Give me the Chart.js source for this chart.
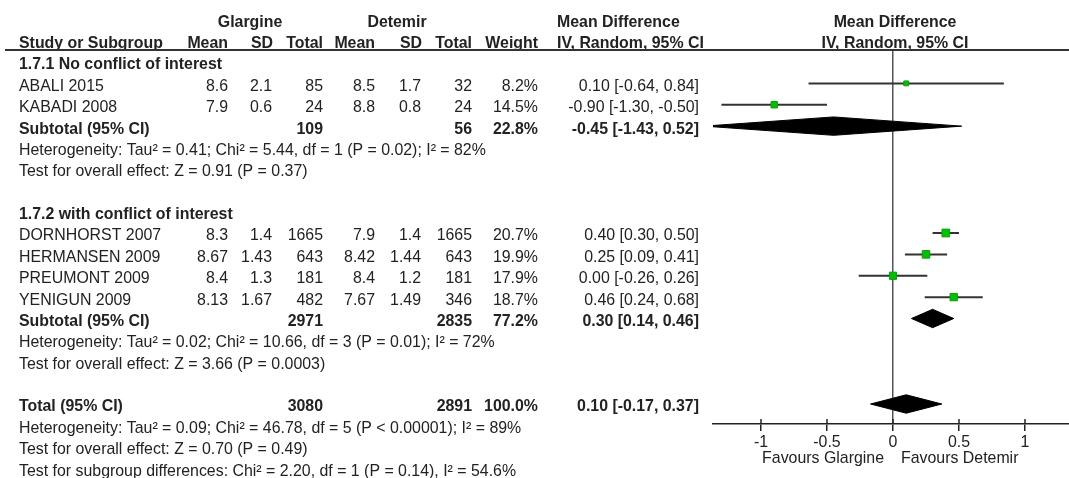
<!DOCTYPE html>
<html>
<head>
<meta charset="utf-8">
<script src="https://cdn.jsdelivr.net/npm/chart.js@4"></script>
<style>
	html, body { margin: 0; padding: 0; background: #fff; overflow: hidden; }
	#wrap { width: 1069px; height: 478px; position: relative; }
</style>
</head>
<body>
<div id="wrap"><canvas id="forest"></canvas></div>
<script>
// ---- data ----
const studies = ["ABALI 2015", "KABADI 2008", "DORNHORST 2007", "HERMANSEN 2009", "PREUMONT 2009", "YENIGUN 2009"];
const studyGroup = [0, 0, 1, 1, 1, 1];
const glargineMean = ["8.6", "7.9", "8.3", "8.67", "8.4", "8.13"];
const glargineSD = ["2.1", "0.6", "1.4", "1.43", "1.3", "1.67"];
const glargineTotal = [85, 24, 1665, 643, 181, 482];
const detemirMean = ["8.5", "8.8", "7.9", "8.42", "8.4", "7.67"];
const detemirSD = ["1.7", "0.8", "1.4", "1.44", "1.2", "1.49"];
const detemirTotal = [32, 24, 1665, 643, 181, 346];
const weights = [8.2, 14.5, 20.7, 19.9, 17.9, 18.7];
const meanDiff = [0.10, -0.90, 0.40, 0.25, 0.00, 0.46];
const ciLow = [-0.64, -1.30, 0.30, 0.09, -0.26, 0.24];
const ciHigh = [0.84, -0.50, 0.50, 0.41, 0.26, 0.68];

const groupNames = ["1.7.1 No conflict of interest", "1.7.2 with conflict of interest"];
const groupGlargineTotal = [109, 2971];
const groupDetemirTotal = [56, 2835];
const groupWeight = [22.8, 77.2];
const groupDiff = [-0.45, 0.30];
const groupLow = [-1.43, 0.14];
const groupHigh = [0.52, 0.46];
const groupHeterogeneity = [
	"Heterogeneity: Tau² = 0.41; Chi² = 5.44, df = 1 (P = 0.02); I² = 82%",
	"Heterogeneity: Tau² = 0.02; Chi² = 10.66, df = 3 (P = 0.01); I² = 72%",
];
const groupOverall = [
	"Test for overall effect: Z = 0.91 (P = 0.37)",
	"Test for overall effect: Z = 3.66 (P = 0.0003)",
];

const totalGlargine = 3080;
const totalDetemir = 2891;
const totalWeight = 100.0;
const totalDiff = 0.10;
const totalLow = -0.17;
const totalHigh = 0.37;
const totalNotes = [
	"Heterogeneity: Tau² = 0.09; Chi² = 46.78, df = 5 (P < 0.00001); I² = 89%",
	"Test for overall effect: Z = 0.70 (P = 0.49)",
	"Test for subgroup differences: Chi² = 2.20, df = 1 (P = 0.14), I² = 54.6%",
];

const xTicks = [-1, -0.5, 0, 0.5, 1];
const favoursLabels = ["Favours Glargine", "Favours Detemir"];

// ---- layout ----
const FONT = "'Liberation Sans', Arial, sans-serif";
const FONT_SIZE = 15.9;
const INK = "#222";
const COL = { study: 19, gMean: 228, gSD: 272, gTotal: 323, dMean: 375, dSD: 421, dTotal: 472, weight: 538, ci: 699, midHead: 557, plotHead: 895 };
const DH = 0.43; // diamond half height, in rows

const fmt2 = (v) => v.toFixed(2);
const ciText = (m, lo, hi) => `${fmt2(m)} [${fmt2(lo)}, ${fmt2(hi)}]`;

// build the table rows; y = row index on the hidden y scale
const rows = [];
const studyRow = [];
const groupRow = [];
rows.push({ y: -2, bold: true, cells: [["Glargine", "center", 250], ["Detemir", "center", 397], ["Mean Difference", "left", COL.midHead], ["Mean Difference", "center", COL.plotHead]] });
rows.push({ y: -1, bold: true, cells: [["Study or Subgroup", "left", COL.study], ["Mean", "right", COL.gMean], ["SD", "right", 273], ["Total", "right", COL.gTotal], ["Mean", "right", COL.dMean], ["SD", "right", 422], ["Total", "right", COL.dTotal], ["Weight", "right", COL.weight], ["IV, Random, 95% CI", "left", COL.midHead], ["IV, Random, 95% CI", "center", COL.plotHead]] });

let r = 0;
groupNames.forEach((name, g) => {
	rows.push({ y: r++, bold: true, cells: [[name, "left", COL.study]] });
	studies.forEach((s, i) => {
		if (studyGroup[i] !== g) return;
		studyRow[i] = r;
		rows.push({
			y: r++,
			cells: [
				[s, "left", COL.study],
				[glargineMean[i], "right", COL.gMean],
				[glargineSD[i], "right", COL.gSD],
				[String(glargineTotal[i]), "right", COL.gTotal],
				[detemirMean[i], "right", COL.dMean],
				[detemirSD[i], "right", COL.dSD],
				[String(detemirTotal[i]), "right", COL.dTotal],
				[weights[i].toFixed(1) + "%", "right", COL.weight],
				[ciText(meanDiff[i], ciLow[i], ciHigh[i]), "right", COL.ci],
			],
		});
	});
	groupRow[g] = r;
	rows.push({
		y: r++,
		bold: true,
		cells: [
			["Subtotal (95% CI)", "left", COL.study],
			[String(groupGlargineTotal[g]), "right", COL.gTotal],
			[String(groupDetemirTotal[g]), "right", COL.dTotal],
			[groupWeight[g].toFixed(1) + "%", "right", COL.weight],
			[ciText(groupDiff[g], groupLow[g], groupHigh[g]), "right", COL.ci],
		],
	});
	rows.push({ y: r++, cells: [[groupHeterogeneity[g], "left", COL.study]] });
	rows.push({ y: r++, cells: [[groupOverall[g], "left", COL.study]] });
	r++; // blank line
});
const totalRow = r;
rows.push({
	y: r++,
	bold: true,
	cells: [
		["Total (95% CI)", "left", COL.study],
		[String(totalGlargine), "right", COL.gTotal],
		[String(totalDetemir), "right", COL.dTotal],
		[totalWeight.toFixed(1) + "%", "right", COL.weight],
		[ciText(totalDiff, totalLow, totalHigh), "right", COL.ci],
	],
});
totalNotes.forEach((t) => rows.push({ y: r++, cells: [[t, "left", COL.study]] }));

// ---- datasets ----
const ciSets = studies.map((s, i) => ({
	type: "line",
	label: s,
	data: [{ x: ciLow[i], y: studyRow[i] }, { x: ciHigh[i], y: studyRow[i] }],
	borderColor: "#333",
	borderWidth: 2,
	pointRadius: 0,
	fill: false,
	order: 3,
}));

const squareSet = {
	type: "scatter",
	label: "Studies",
	data: studies.map((s, i) => ({ x: meanDiff[i], y: studyRow[i] })),
	pointStyle: "rect",
	pointRadius: weights.map((w) => 1.2 * Math.sqrt(w)),
	backgroundColor: "#00c000",
	borderColor: "#119911",
	borderWidth: 1,
	order: 1,
};

function diamond(label, lo, est, hi, y) {
	return {
		type: "line",
		label: label,
		data: [
			{ x: lo, y: y },
			{ x: est, y: y - DH },
			{ x: hi, y: y },
			{ x: est, y: y + DH },
			{ x: lo, y: y },
		],
		fill: "shape",
		backgroundColor: "#000",
		borderColor: "#000",
		borderWidth: 1,
		pointRadius: 0,
		tension: 0,
		order: 2,
	};
}

const diamondSets = groupNames.map((n, g) => diamond(n, groupLow[g], groupDiff[g], groupHigh[g], groupRow[g]));
diamondSets.push(diamond("Total", totalLow, totalDiff, totalHigh, totalRow));

// ---- table text, header rule, favours labels ----
const tablePlugin = {
	id: "tableText",
	afterDraw(chart) {
		const { ctx, scales } = chart;
		const xs = scales.x;
		const ys = scales.y;
		ctx.save();
		ctx.fillStyle = INK;
		ctx.textBaseline = "middle";
		rows.forEach((row) => {
			ctx.font = `${row.bold ? "bold " : ""}${FONT_SIZE}px ${FONT}`;
			const py = ys.getPixelForValue(row.y) + 3;
			row.cells.forEach(([text, align, px]) => {
				ctx.textAlign = align;
				ctx.fillText(text, px, py);
			});
		});

		// header rule
		ctx.strokeStyle = "#333";
		ctx.lineWidth = 2;
		ctx.beginPath();
		ctx.moveTo(5, chart.chartArea.top);
		ctx.lineTo(chart.width, chart.chartArea.top);
		ctx.stroke();

		// tick marks poke above the axis line
		const base = chart.chartArea.bottom;
		ctx.strokeStyle = "#222";
		ctx.lineWidth = 1.5;
		xTicks.forEach((v) => {
			const px = xs.getPixelForValue(v);
			ctx.beginPath();
			ctx.moveTo(px, base - 5);
			ctx.lineTo(px, base);
			ctx.stroke();
		});

		// favours labels
		const zero = xs.getPixelForValue(0);
		ctx.font = `${FONT_SIZE}px ${FONT}`;
		ctx.textAlign = "right";
		ctx.fillText(favoursLabels[0], zero - 9, 459);
		ctx.textAlign = "left";
		ctx.fillText(favoursLabels[1], zero + 8, 459);
		ctx.restore();
	},
};

new Chart(document.getElementById("forest"), {
	type: "scatter",
	data: { datasets: [squareSet, ...diamondSets, ...ciSets] },
	options: {
		responsive: true,
		maintainAspectRatio: false,
		animation: false,
		events: [],
		layout: { autoPadding: false, padding: { left: 713, top: 50, right: 0, bottom: 0 } },
		plugins: {
			legend: { display: false },
			tooltip: { enabled: false },
		},
		scales: {
			x: {
				type: "linear",
				min: -180 / 132,
				max: 176 / 132,
				afterBuildTicks: (s) => {
					s.ticks = xTicks.map((v) => ({ value: v }));
				},
				afterFit: (s) => {
					s.height = 54;
					s.paddingLeft = 0;
					s.paddingRight = 0;
				},
				grid: {
					drawOnChartArea: true,
					color: (c) => (c.tick && c.tick.value === 0 ? "#555" : "rgba(0,0,0,0)"),
					lineWidth: 1.5,
					tickColor: "#222",
					tickLength: 7,
					tickWidth: 1.5,
				},
				border: { display: true, color: "#222", width: 1.5 },
				ticks: {
					color: INK,
					font: { family: FONT, size: FONT_SIZE },
					padding: 2,
					maxRotation: 0,
					autoSkip: false,
					callback: (v) => String(v),
				},
			},
			y: {
				type: "linear",
				display: false,
				reverse: true,
				min: -12 / 21.375,
				max: 16 + 20 / 21.375,
			},
		},
	},
	plugins: [tablePlugin],
});
</script>
</body>
</html>
